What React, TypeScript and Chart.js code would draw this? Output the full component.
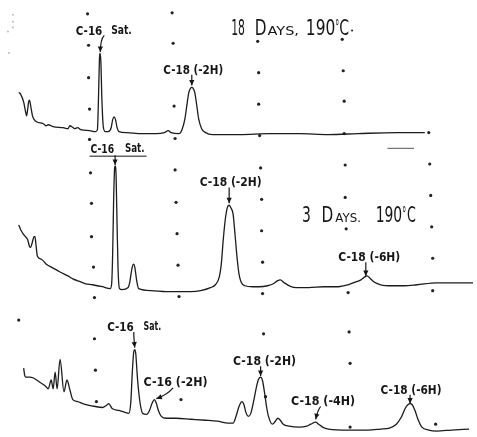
import React, { useEffect, useRef } from "react";
import { Chart, registerables } from "chart.js";

Chart.register(...registerables);

const W = 477;
const H = 437;

// x: position along the recorder chart (retention direction), y: pen position on the paper (0 = top edge)
const trace18Days: [number, number][] = [
  [15, 90], [17, 92], [20, 100], [22, 110], [23, 114], [24, 108], [25, 100], [26, 98], [27, 103], [29, 114],
  [31, 118], [33, 120], [40, 122], [43, 124], [45, 123], [50, 125], [60, 126], [65, 127], [67, 124], [69, 125],
  [72, 127], [75, 126], [78, 128], [87, 129], [93, 130], [95, 128], [96, 100], [97, 58], [97.5, 50], [98.5, 58],
  [99.5, 95], [101, 125], [103, 130], [106, 130], [109, 126], [110.5, 118], [112, 115], [113.5, 118], [115, 126], [117, 130],
  [125, 131], [140, 132], [155, 132], [163, 131], [167, 129], [170, 131], [178, 132], [181, 128], [184, 117], [186, 103],
  [188, 90], [190, 85.5], [191, 85], [192, 85.5], [194, 90], [196, 103], [198, 117], [201, 127], [205, 131], [212, 133],
  [240, 133], [270, 132], [300, 132], [330, 133], [360, 132], [400, 131], [428, 131]
];

const trace3Days: [number, number][] = [
  [15, 225], [17, 230], [20, 235], [24, 240], [26, 247], [27, 248], [29, 242], [30.5, 237], [31.5, 237], [32.5, 245],
  [34, 257], [38, 260], [43, 265], [50, 269], [57, 273], [65, 277], [70, 280], [78, 283], [83, 285], [90, 286],
  [100, 288], [108, 290], [109.5, 285], [110.5, 255], [111.5, 200], [112.5, 167], [113, 165], [114, 175], [115, 225], [116, 270],
  [117.5, 290], [120, 291], [126, 289], [128, 283], [130, 270], [131.7, 265], [133, 268], [135, 282], [137, 290], [150, 292],
  [165, 293], [180, 293], [190, 293], [200, 292], [210, 289], [215, 286], [219, 278], [221, 265], [223, 240], [225, 220],
  [227, 208], [229, 205], [231, 208], [233, 214], [235, 235], [237, 258], [239, 275], [241, 283], [245, 287], [253, 288],
  [260, 288], [268, 287], [274, 285], [278, 282], [281, 281], [285, 284], [292, 288], [297, 289], [310, 289], [325, 288],
  [340, 288], [350, 286], [358, 283], [363, 281], [367, 278], [369, 277], [372, 279], [376, 283], [383, 286], [395, 287],
  [407, 287], [420, 286], [440, 284], [460, 284], [477, 284]
];

const trace0Days: [number, number][] = [
  [20, 371], [21, 378], [22, 380], [26, 380], [30, 381], [36, 385], [42, 389], [45, 392], [48, 383], [50, 392],
  [52, 375], [54, 392], [57, 362], [61, 395], [64, 383], [67, 393], [70, 403], [75, 405], [80, 407], [93, 410],
  [100, 411], [104, 409], [106.5, 407], [110, 412], [117, 414], [123, 416], [127, 417], [129, 405], [130.5, 375],
  [132, 354], [133, 352], [134, 356], [135.5, 378], [137, 395], [139, 410], [141, 417], [145, 418], [148, 414], [150.5, 407],
  [153, 403], [155, 407], [157, 414], [160, 420], [165, 422], [175, 422], [190, 423], [205, 424], [217, 425], [228, 427],
  [233, 427], [236, 420], [239, 410], [242, 405], [244, 408], [246, 416], [248.5, 420], [251, 417], [254, 404], [257, 389],
  [259, 382], [261, 380], [263, 384], [265, 396], [267, 410], [269, 420], [273, 428], [276, 425], [278.5, 422], [281, 424],
  [284, 428], [290, 430], [300, 431], [308, 430], [312, 428], [317, 426], [320, 428], [324, 431], [330, 433], [350, 434],
  [370, 434], [383, 433], [392, 432], [399, 428], [404, 421], [408, 412], [411, 408], [413, 407], [415, 408], [418, 414],
  [421, 423], [425, 431], [432, 434], [440, 435], [455, 434], [473, 433]
];

// grid dots printed on the recorder paper
const gridDots: [number, number][] = [
  [85, 10], [86, 42], [86, 75], [87, 107], [87, 138], [88, 172], [89, 203], [89, 237], [91, 268], [92, 299],
  [92, 341], [93, 373], [94, 405],
  [171, 9], [172, 40], [173, 104], [174, 137], [174, 169], [175, 202], [176, 234], [177, 266], [178, 298],
  [180, 403],
  [258, 38], [259, 70], [259, 102], [260, 134], [261, 167], [262, 199], [262, 231], [263, 263], [263, 295], [264, 336],
  [266, 400],
  [344, 36], [345, 68], [346, 99], [346, 132], [347, 164], [347, 197], [348, 229], [350, 294], [351, 334], [352, 366],
  [352, 431],
  [432, 131], [433, 163], [434, 195], [435, 227], [436, 259], [436, 292], [439, 428],
  [15, 322]
];

// faint specks near the top-left edge of the paper
const faintSpecks: [number, number][] = [[9, 11], [9, 18], [9, 24], [4, 28], [5, 50]];

const paperMark: [number, number][] = [[390, 147], [417, 147]];

// [text, left, right, baseline]
const peakLabels: [string, number, number, number][] = [
  ["C-16", 73, 100, 32], ["Sat.", 109, 130, 31], ["C-18 (-2H)", 162, 223, 71],
  ["C-16", 88, 112, 152], ["Sat.", 123, 143, 151], ["C-18 (-2H)", 199, 262, 185], ["C-18 (-6H)", 340, 403, 262],
  ["C-16", 105, 132, 333], ["Sat.", 142, 160, 332], ["C-16 (-2H)", 142, 207, 389], ["C-18 (-2H)", 233, 297, 368],
  ["C-18 (-4H)", 292, 357, 408], ["C-18 (-6H)", 383, 445, 397]
];

// [text, left, right, baseline, small]
const titlePieces: [string, number, number, number, boolean][] = [
  ["18", 231, 245, 32, false], ["D", 255, 267, 32, false], ["AYS,", 268, 300, 32, true],
  ["190", 307, 337, 32, false], ["°", 337, 341, 32, false], ["C", 341, 351, 32, false],
  ["3", 303, 312, 222, false], ["D", 323, 335, 222, false], ["AYS.", 337, 363, 222, true],
  ["190", 378, 405, 222, false], ["°", 405, 409, 222, false], ["C", 410, 419, 222, false]
];

// [x0, y0, cx, cy, x1, y1]  (quadratic curve, head at x1,y1)
const arrows: [number, number, number, number, number, number][] = [
  [102, 32, 98, 36, 98, 49],
  [191, 72, 191, 77, 191, 83],
  [113, 154, 113, 158, 113, 164],
  [229, 187, 229, 195, 229, 203],
  [368, 263, 368, 270, 368, 277],
  [132, 334, 132, 340, 133, 350],
  [172, 391, 166, 398, 155, 402],
  [261, 369, 261, 373, 261, 379],
  [322, 410, 319, 414, 317, 423],
  [413, 398, 413, 402, 413, 407]
];

const underline: [number, number, number] = [87, 145, 155];

const annotate = {
  id: "annotate",
  afterDatasetsDraw(chart: any) {
    const ctx: CanvasRenderingContext2D = chart.ctx;
    const sx = chart.scales.x;
    const sy = chart.scales.y;
    const px = (v: number) => sx.getPixelForValue(v);
    const py = (v: number) => sy.getPixelForValue(v);
    ctx.save();
    ctx.fillStyle = "#151515";
    ctx.strokeStyle = "#151515";
    ctx.textAlign = "left";
    ctx.textBaseline = "alphabetic";

    const fit = (t: string, x0: number, x1: number, b: number, font: string) => {
      ctx.font = font;
      const w = ctx.measureText(t).width;
      ctx.save();
      ctx.translate(px(x0), py(b));
      ctx.scale((px(x1) - px(x0)) / w, 1);
      ctx.fillText(t, 0, 0);
      ctx.restore();
    };

    peakLabels.forEach(([t, x0, x1, b]) => fit(t, x0, x1, b, "bold 12px 'DejaVu Sans', sans-serif"));
    titlePieces.forEach(([t, x0, x1, b, small]) =>
      fit(t, x0, x1, b, small ? "13px 'DejaVu Sans', sans-serif" : "22px 'DejaVu Sans', sans-serif")
    );
    // small dot after the first title
    ctx.beginPath();
    ctx.arc(px(354), py(27), 1, 0, Math.PI * 2);
    ctx.fill();

    // underline of the middle "C-16 Sat."
    ctx.lineWidth = 1;
    ctx.beginPath();
    ctx.moveTo(px(underline[0]), py(underline[2]));
    ctx.lineTo(px(underline[1]), py(underline[2]));
    ctx.stroke();

    arrows.forEach(([x0, y0, cx, cy, x1, y1]) => {
      ctx.lineWidth = 1.2;
      ctx.beginPath();
      ctx.moveTo(px(x0), py(y0));
      ctx.quadraticCurveTo(px(cx), py(cy), px(x1), py(y1));
      ctx.stroke();
      const ang = Math.atan2(py(y1) - py(cy), px(x1) - px(cx));
      const L = 5.5, hw = 2.6;
      const bx = px(x1) - L * Math.cos(ang), by = py(y1) - L * Math.sin(ang);
      ctx.beginPath();
      ctx.moveTo(px(x1), py(y1));
      ctx.lineTo(bx + hw * Math.sin(ang), by - hw * Math.cos(ang));
      ctx.lineTo(bx - hw * Math.sin(ang), by + hw * Math.cos(ang));
      ctx.closePath();
      ctx.fill();
    });
    ctx.restore();
  }
};

const whiteBg = {
  id: "whiteBg",
  beforeDraw(chart: any) {
    const ctx = chart.ctx;
    ctx.save();
    ctx.fillStyle = "#ffffff";
    ctx.fillRect(0, 0, chart.width, chart.height);
    ctx.restore();
  }
};

const toPts = (arr: [number, number][]) => arr.map(([x, y]) => ({ x, y }));

const traceStyle = {
  borderColor: "#1c1c1c",
  borderWidth: 1.3,
  pointRadius: 0,
  fill: false,
  cubicInterpolationMode: "monotone" as const,
  showLine: true
};

export default function App() {
  const ref = useRef<HTMLCanvasElement | null>(null);
  useEffect(() => {
    document.body.style.margin = "0";
    if (!ref.current) return;
    const chart = new Chart(ref.current, {
      type: "line",
      data: {
        datasets: [
          { label: "18 Days, 190°C", data: toPts(trace18Days), ...traceStyle },
          { label: "3 Days, 190°C", data: toPts(trace3Days), ...traceStyle },
          { label: "Initial", data: toPts(trace0Days), ...traceStyle },
          {
            label: "grid",
            data: toPts(gridDots),
            showLine: false,
            pointRadius: 1.6,
            pointBackgroundColor: "#222",
            pointBorderWidth: 0
          },
          {
            label: "specks",
            data: toPts(faintSpecks),
            showLine: false,
            pointRadius: 1,
            pointBackgroundColor: "#bbb",
            pointBorderWidth: 0
          },
          {
            label: "mark",
            data: toPts(paperMark),
            borderColor: "#555",
            borderWidth: 1,
            pointRadius: 0
          }
        ]
      },
      options: {
        animation: false,
        responsive: false,
        maintainAspectRatio: false,
        devicePixelRatio: 1,
        layout: { padding: 0 },
        events: [],
        scales: {
          x: { type: "linear", min: 0, max: W, display: false },
          y: { type: "linear", min: 0, max: H, reverse: true, display: false }
        },
        plugins: {
          legend: { display: false },
          tooltip: { enabled: false }
        }
      },
      plugins: [whiteBg, annotate]
    });
    return () => chart.destroy();
  }, []);
  return (
    <div style={{ width: W, height: H, background: "#fff" }}>
      <canvas ref={ref} width={W} height={H} style={{ display: "block" }} />
    </div>
  );
}
